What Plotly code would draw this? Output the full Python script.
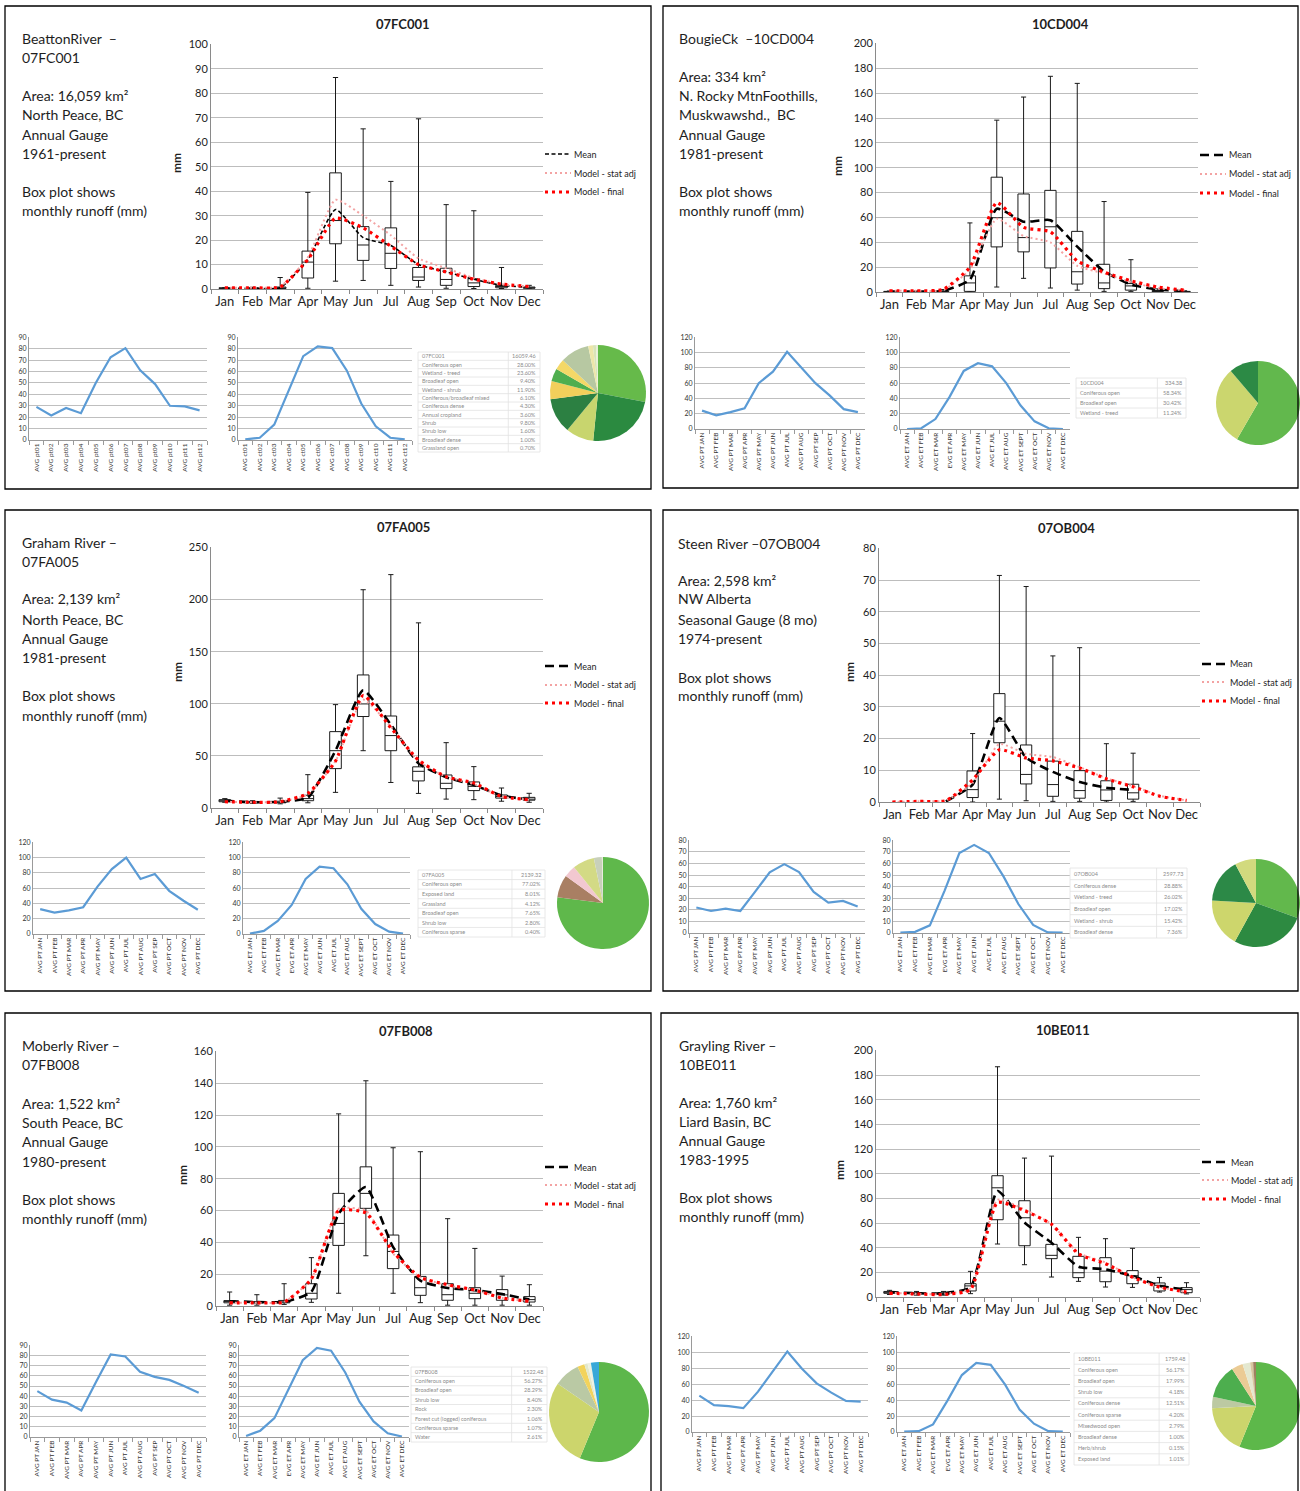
import plotly.graph_objects as go

W, H = 1300, 1491
FONT = "Lato, 'Open Sans', sans-serif"
TXT = "#1e1e1e"

MONTHS = ["Jan", "Feb", "Mar", "Apr", "May", "Jun", "Jul", "Aug", "Sep", "Oct", "Nov", "Dec"]

PT_LABELS_NUM = ["AVG pt01", "AVG pt02", "AVG pt03", "AVG pt04", "AVG pt05", "AVG pt06",
                 "AVG pt07", "AVG pt08", "AVG pt09", "AVG pt10", "AVG pt11", "AVG pt12"]
ET_LABELS_NUM = ["AVG ct01", "AVG ct02", "AVG ct03", "AVG ct04", "AVG ct05", "AVG ct06",
                 "AVG ct07", "AVG ct08", "AVG ct09", "AVG ct10", "AVG ct11", "AVG ct12"]
PT_LABELS = ["AVG PT JAN", "AVG PT FEB", "AVG PT MAR", "AVG PT APR", "AVG PT MAY", "AVG PT JUN",
             "AVG PT JUL", "AVG PT AUG", "AVG PT SEP", "AVG PT OCT", "AVG PT NOV", "AVG PT DEC"]
ET_LABELS = ["AVG ET JAN", "AVG ET FEB", "AVG ET MAR", "EVG ET APR", "AVG ET MAY", "AVG ET JUN",
             "AVG ET JUL", "AVG ET AUG", "AVG ET SEPT", "AVG ET OCT", "AVG ET NOV", "AVG ET DEC"]

# ---------------- 07FC001 Beatton River ----------------
FC001_MIN = [0.0, 0.0, 0.1, 0.3, 3.2, 3.5, 1.5, 0.8, 0.3, 0.2, 0.2, 0.1]
FC001_Q1 = [0.2, 0.2, 0.2, 4.5, 18.5, 11.7, 8.4, 3.5, 1.5, 1.0, 0.5, 0.3]
FC001_MED = [0.3, 0.3, 0.4, 11.0, 28.0, 18.0, 14.6, 4.9, 3.9, 2.5, 1.0, 0.5]
FC001_Q3 = [0.5, 0.5, 0.8, 15.5, 47.5, 25.5, 25.0, 8.8, 8.5, 4.2, 1.5, 0.8]
FC001_MAX = [0.6, 0.7, 4.7, 39.5, 86.5, 65.5, 44.0, 69.6, 34.5, 32.0, 8.8, 1.5]
FC001_MEAN = [0.3, 0.3, 0.5, 12.0, 32.5, 21.0, 17.8, 10.0, 7.0, 4.0, 1.5, 0.7]
FC001_STAT = [0.5, 0.5, 1.0, 13.0, 36.5, 30.0, 22.0, 12.5, 8.5, 4.5, 2.0, 1.0]
FC001_FINAL = [0.5, 0.5, 0.8, 12.0, 29.0, 25.0, 17.5, 10.0, 7.0, 4.0, 2.0, 1.0]
FC001_PT = [29, 21.5, 28, 23.5, 50, 72.5, 80.5, 61, 49, 30, 29.5, 26]
FC001_ET = [0.5, 2, 13.5, 44, 73.5, 82, 80.5, 61, 32, 12, 2, 0.5]
FC001_AREA = "16059.46"
FC001_COVER = ["Coniferous open", "Wetland - treed", "Broadleaf open", "Wetland - shrub",
               "Coniferous/broadleaf mixed", "Coniferous dense", "Annual cropland", "Shrub",
               "Shrub low", "Broadleaf dense", "Grassland open"]
FC001_PCT = [28.0, 23.6, 9.4, 11.9, 6.1, 4.3, 3.6, 9.8, 1.6, 1.0, 0.7]
FC001_COLORS = ["#66BA4A", "#2B8A40", "#C8D56E", "#2C8042", "#F2CF5B", "#4FAE4F",
                "#F4D867", "#B7C8A2", "#EDE6A9", "#D9E4B8", "#E8EFD8"]

# ---------------- 10CD004 Bougie Creek ----------------
CD004_MIN = [0.0, 0.0, 0.2, 0.0, 4.0, 11.0, 3.2, 1.5, 0.5, 0.5, 0.2, 0.1]
CD004_Q1 = [0.2, 0.2, 0.3, 0.5, 36.3, 32.3, 19.4, 6.4, 2.7, 1.5, 0.4, 0.2]
CD004_MED = [0.3, 0.3, 0.5, 7.3, 59.8, 43.8, 52.5, 16.3, 7.3, 4.9, 0.7, 0.3]
CD004_Q3 = [0.5, 0.5, 0.8, 13.0, 92.4, 78.9, 81.8, 48.8, 22.3, 6.8, 1.2, 0.5]
CD004_MAX = [0.8, 0.8, 2.0, 55.6, 138.3, 156.9, 173.6, 167.9, 72.8, 26.0, 2.5, 1.0]
CD004_MEAN = [0.3, 0.3, 0.8, 10.0, 67.0, 56.5, 57.8, 36.5, 16.5, 6.0, 2.0, 0.8]
CD004_STAT = [1.0, 1.0, 1.5, 18.0, 59.0, 45.0, 40.0, 21.0, 15.0, 8.0, 3.0, 1.5]
CD004_FINAL = [1.0, 1.0, 2.0, 20.0, 72.0, 52.0, 48.5, 25.0, 16.0, 9.0, 4.0, 1.5]
CD004_PT = [24, 18, 22, 27, 60, 75, 101, 80, 60, 44, 26, 22]
CD004_ET = [0, 1, 13, 42, 76, 86, 82, 60, 31, 10, 1, 0]
CD004_AREA = "334.38"
CD004_COVER = ["Coniferous open", "Broadleaf open", "Wetland - treed"]
CD004_PCT = [58.34, 30.42, 11.24]
CD004_COLORS = ["#62B84D", "#CBD66E", "#2C8A45"]

# ---------------- 07FA005 Graham River ----------------
FA005_MIN = [5.5, 4.5, 4.0, 5.0, 15.0, 55.0, 24.5, 14.0, 8.5, 8.0, 6.5, 5.5]
FA005_Q1 = [6.0, 5.0, 5.0, 7.0, 37.8, 87.8, 55.0, 26.0, 18.6, 16.7, 9.5, 7.5]
FA005_MED = [7.0, 5.5, 5.5, 9.0, 55.0, 99.9, 69.5, 35.2, 23.7, 20.8, 11.0, 8.5]
FA005_Q3 = [8.0, 6.3, 6.5, 12.2, 73.3, 127.7, 88.3, 39.5, 31.7, 25.0, 12.5, 10.2]
FA005_MAX = [9.0, 7.0, 9.5, 32.0, 99.2, 209.5, 224.0, 177.7, 62.7, 39.7, 19.2, 14.1]
FA005_MEAN = [7.0, 5.5, 6.0, 10.0, 55.0, 113.0, 80.0, 43.0, 29.5, 22.0, 12.0, 8.0]
FA005_STAT = [6.0, 5.5, 6.0, 13.0, 45.0, 104.0, 78.0, 45.0, 30.0, 23.0, 11.0, 8.0]
FA005_FINAL = [6.0, 5.5, 6.0, 14.0, 45.0, 108.0, 77.0, 46.0, 30.0, 24.0, 11.0, 8.0]
FA005_PT = [32.5, 28, 31, 35, 62, 85, 100, 72, 78.5, 56.5, 43.5, 31.7]
FA005_ET = [0.5, 4, 17, 38, 72, 88, 86, 65, 33, 13, 3, 0.5]
FA005_AREA = "2139.32"
FA005_COVER = ["Coniferous open", "Exposed land", "Grassland", "Broadleaf open",
               "Shrub low", "Coniferous sparse"]
FA005_PCT = [77.02, 8.01, 4.12, 7.65, 2.80, 0.40]
FA005_COLORS = ["#5FB84B", "#A97F63", "#F2C8D0", "#D3DA85", "#C8D0BA", "#E6E9DA"]

# ---------------- 07OB004 Steen River (seasonal gauge) ----------------
OB004_MIN = [None, None, None, 0.0, 0.9, 0.4, 0.2, 0.2, 0.0, 0.2, None, None]
OB004_Q1 = [None, None, None, 1.4, 18.7, 5.7, 1.8, 1.2, 0.5, 0.9, None, None]
OB004_MED = [None, None, None, 3.9, 25.5, 8.7, 5.5, 3.6, 3.8, 2.9, None, None]
OB004_Q3 = [None, None, None, 9.8, 34.2, 18.0, 12.9, 9.9, 6.7, 5.6, None, None]
OB004_MAX = [None, None, None, 21.6, 71.5, 68.0, 46.1, 48.7, 18.4, 15.4, None, None]
OB004_MEAN = [None, None, 0.2, 5.5, 26.5, 14.0, 9.5, 6.3, 4.5, 3.8, None, None]
OB004_STAT = [0.0, 0.2, 0.5, 6.0, 18.3, 15.2, 14.2, 11.0, 7.5, 5.0, 2.0, 0.5]
OB004_FINAL = [0.0, 0.2, 0.4, 7.0, 16.5, 13.9, 13.0, 10.7, 7.3, 4.8, 1.8, 0.5]
OB004_PT = [22, 19, 21, 19, 35.5, 52.3, 59.4, 52.6, 35.4, 26.3, 27.7, 22.9]
OB004_ET = [0.3, 1.0, 6.6, 36.6, 69, 76, 69, 48.6, 25, 6.9, 0.5, 0.3]
OB004_AREA = "2597.73"
OB004_COVER = ["Coniferous dense", "Wetland - treed", "Broadleaf open", "Wetland - shrub",
               "Broadleaf dense"]
OB004_PCT = [28.88, 26.02, 17.02, 15.42, 7.36]
OB004_COLORS = ["#62B84C", "#2D8A41", "#CDD66C", "#2C8947", "#D2DA7E"]

# ---------------- 07FB008 Moberly River ----------------
FB008_MIN = [0.5, 0.5, 1.0, 2.3, 8.0, 31.6, 8.0, 2.1, 0.5, 0.5, 0.5, 0.5]
FB008_Q1 = [2.0, 1.8, 2.0, 4.4, 38.1, 61.4, 23.5, 6.7, 3.6, 4.6, 3.6, 2.5]
FB008_MED = [3.0, 2.3, 2.5, 8.0, 51.9, 70.8, 34.3, 11.5, 7.1, 8.0, 7.0, 4.0]
FB008_Q3 = [3.4, 2.8, 3.5, 14.0, 70.8, 87.5, 44.6, 18.6, 14.0, 11.5, 10.3, 5.9]
FB008_MAX = [8.8, 7.1, 14.0, 30.4, 120.8, 141.6, 99.5, 97.0, 54.9, 36.2, 18.8, 13.4]
FB008_MEAN = [3.0, 2.5, 2.5, 9.0, 58.0, 74.8, 37.0, 15.9, 11.3, 10.0, 7.5, 4.0]
FB008_STAT = [2.0, 2.0, 2.5, 17.0, 61.0, 60.0, 33.0, 18.0, 13.0, 10.0, 5.0, 3.0]
FB008_FINAL = [2.0, 2.0, 2.5, 17.0, 60.0, 58.5, 34.0, 18.0, 13.4, 10.0, 5.0, 3.0]
FB008_PT = [45, 36.7, 33.8, 26, 54, 81, 79, 64, 59, 56, 50, 43.5]
FB008_ET = [1, 6.2, 18.5, 46.8, 75.3, 87.3, 84.7, 63.3, 34.7, 15.3, 3.6, 0.5]
FB008_AREA = "1522.48"
FB008_COVER = ["Coniferous open", "Broadleaf open", "Shrub low", "Rock",
               "Forest cut (logged) coniferous", "Coniferous sparse", "Water"]
FB008_PCT = [56.27, 28.29, 8.40, 2.30, 1.06, 1.07, 2.61]
FB008_COLORS = ["#5DB74B", "#CCD56C", "#BAC9A4", "#F2D35C", "#E2E8CC", "#EEF1E2", "#38A8D8"]

# ---------------- 10BE011 Grayling River ----------------
BE011_MIN = [2.0, 1.5, 1.5, 2.7, 43.0, 26.2, 16.2, 12.7, 8.1, 7.8, 4.0, 2.5]
BE011_Q1 = [3.0, 2.5, 2.0, 4.9, 62.7, 41.6, 31.1, 15.7, 12.4, 10.8, 4.9, 3.5]
BE011_MED = [3.8, 3.0, 3.0, 9.0, 88.6, 64.3, 33.8, 19.7, 21.0, 17.3, 9.5, 6.0]
BE011_Q3 = [4.5, 3.5, 3.5, 10.8, 98.4, 78.1, 42.7, 33.0, 31.9, 21.4, 11.4, 7.6]
BE011_MAX = [5.4, 4.5, 4.5, 20.8, 186.8, 112.7, 114.3, 48.4, 47.3, 39.5, 15.9, 11.6]
BE011_MEAN = [4.0, 3.0, 3.0, 8.0, 86.0, 60.5, 44.0, 24.6, 22.5, 17.0, 9.0, 6.0]
BE011_STAT = [3.5, 2.5, 2.5, 7.0, 79.0, 71.0, 59.0, 35.7, 28.0, 16.0, 8.0, 4.0]
BE011_FINAL = [3.0, 2.5, 2.0, 6.0, 76.8, 70.0, 59.0, 35.0, 27.0, 16.0, 8.0, 4.0]
BE011_PT = [45.6, 33.6, 32.4, 29.9, 50.6, 75.5, 101, 79.3, 61, 49.4, 39, 38.2]
BE011_ET = [0.5, 1, 9.5, 39.4, 71.4, 86.7, 84.2, 59.3, 28.2, 10.4, 1, 0.5]
BE011_AREA = "1759.48"
BE011_COVER = ["Coniferous open", "Broadleaf open", "Shrub low", "Coniferous dense",
               "Coniferous sparse", "Mixedwood open", "Broadleaf dense", "Herb/shrub",
               "Exposed land"]
BE011_PCT = [56.17, 17.99, 4.18, 12.51, 4.20, 2.79, 1.00, 0.15, 1.01]
BE011_COLORS = ["#5DB84A", "#CCD56C", "#BCC9A2", "#4DAE4E", "#EBCB95", "#E4E8D0",
                "#D8C8A0", "#9C7A55", "#A08060"]

# ---------------- panel text ----------------
FC001_TEXT = ["BeattonRiver  \u2013", "07FC001", "Area: 16,059 km\u00b2", "North Peace, BC",
              "Annual Gauge", "1961-present", "Box plot shows", "monthly runoff (mm)"]
CD004_TEXT = ["BougieCk  \u201310CD004", "Area: 334 km\u00b2", "N. Rocky MtnFoothills,",
              "Muskwawshd.,  BC", "Annual Gauge", "1981-present", "Box plot shows",
              "monthly runoff (mm)"]
FA005_TEXT = ["Graham River \u2013", "07FA005", "Area: 2,139 km\u00b2", "North Peace, BC",
              "Annual Gauge", "1981-present", "Box plot shows", "monthly runoff (mm)"]
OB004_TEXT = ["Steen River \u201307OB004", "Area: 2,598 km\u00b2", "NW Alberta",
              "Seasonal Gauge (8 mo)", "1974-present", "Box plot shows", "monthly runoff (mm)"]
FB008_TEXT = ["Moberly River \u2013", "07FB008", "Area: 1,522 km\u00b2", "South Peace, BC",
              "Annual Gauge", "1980-present", "Box plot shows", "monthly runoff (mm)"]
BE011_TEXT = ["Grayling River \u2013", "10BE011", "Area: 1,760 km\u00b2", "Liard Basin, BC",
              "Annual Gauge", "1983-1995", "Box plot shows", "monthly runoff (mm)"]

LEGEND_NAMES = ["Mean", "Model - stat adj", "Model - final"]

# ---------------------------------------------------------------------------
fig = go.Figure()
layout = {}
annotations = []
shapes = []
counter = [0]

STAT_STYLE = dict(color="#F3A3A3", width=2, dash="2px,3px")
FINAL_STYLE = dict(color="#FF0000", width=3.2, dash="3px,4px")
MEAN_THIN = dict(color="#000000", width=1.6, dash="4px,2.5px")
MEAN_THICK = dict(color="#000000", width=2.6, dash="9px,5px")


def px(x):
    return x / W


def py(y):
    return 1 - y / H


def new_axes(x0, x1, y0, y1):
    counter[0] += 1
    n = counter[0]
    xk, yk = ("xaxis", "yaxis") if n == 1 else (f"xaxis{n}", f"yaxis{n}")
    xr, yr = ("x", "y") if n == 1 else (f"x{n}", f"y{n}")
    layout[xk] = dict(domain=[px(x0), px(x1)], anchor=yr, automargin=False, fixedrange=True)
    layout[yk] = dict(domain=[py(y1), py(y0)], anchor=xr, automargin=False, fixedrange=True)
    return xk, yk, xr, yr


def text(x, y, s, size=14, anchor="left", bold=False, angle=0, color=TXT):
    annotations.append(dict(
        x=px(x), y=py(y), xref="paper", yref="paper", showarrow=False,
        text=s, textangle=angle, xanchor=anchor, yanchor="middle",
        font=dict(size=size, color=color, family=FONT, weight="bold" if bold else "normal")))


def hline(x0, x1, y, color, width, dash="solid"):
    shapes.append(dict(type="line", xref="paper", yref="paper", x0=px(x0), x1=px(x1),
                       y0=py(y), y1=py(y), line=dict(color=color, width=width, dash=dash)))


def vline(x, y0, y1, color, width):
    shapes.append(dict(type="line", xref="paper", yref="paper", x0=px(x), x1=px(x),
                       y0=py(y0), y1=py(y1), line=dict(color=color, width=width)))


def box_chart(geom, mn, q1, med, q3, mx, mean, stat, final, ymax, dtick, mean_style):
    xk, yk, xr, yr = new_axes(*geom)
    keep = [i for i, v in enumerate(med) if v is not None]
    fig.add_trace(go.Box(
        x=[MONTHS[i] for i in keep], q1=[q1[i] for i in keep], median=[med[i] for i in keep],
        q3=[q3[i] for i in keep], lowerfence=[mn[i] for i in keep],
        upperfence=[mx[i] for i in keep], orientation="v", boxpoints=False,
        fillcolor="white", line=dict(color="#1a1a1a", width=1), whiskerwidth=0.45,
        width=0.42, xaxis=xr, yaxis=yr, hoverinfo="skip"))
    for vals, style in ((mean, mean_style), (stat, STAT_STYLE), (final, FINAL_STYLE)):
        fig.add_trace(go.Scatter(
            x=MONTHS, y=vals, mode="lines", line=dict(shape="spline", smoothing=0.5, **style),
            xaxis=xr, yaxis=yr, hoverinfo="skip"))
    layout[xk].update(
        type="category", categoryorder="array", categoryarray=MONTHS, range=[-0.5, 11.5],
        showline=True, linecolor="#8a8a8a", linewidth=1, ticks="outside", tickson="boundaries",
        ticklen=4, tickcolor="#8a8a8a", tickangle=0, tickmode="linear", dtick=1,
        tickfont=dict(size=13, color=TXT, family=FONT), showgrid=False, zeroline=False)
    layout[yk].update(
        range=[0, ymax * 1.002], dtick=dtick, tick0=0, showline=True, linecolor="#8a8a8a",
        linewidth=1, showgrid=True, gridcolor="#BDBDBD", gridwidth=1, zeroline=False, ticks="",
        tickfont=dict(size=11, color=TXT, family=FONT))


def line_chart(geom, labels, vals, ymax, dtick):
    xk, yk, xr, yr = new_axes(*geom)
    fig.add_trace(go.Scatter(
        x=labels, y=vals, mode="lines", line=dict(color="#5B9BD5", width=2.2),
        xaxis=xr, yaxis=yr, hoverinfo="skip"))
    layout[xk].update(
        type="category", range=[-0.5, 11.5], showline=True, linecolor="#9a9a9a",
        ticks="outside", tickson="boundaries", ticklen=4, tickcolor="#9a9a9a",
        tickangle=-90, tickmode="linear", dtick=1, showgrid=False, zeroline=False,
        tickfont=dict(size=6.5, color="#333333", family=FONT))
    layout[yk].update(
        range=[0, ymax * 1.003], dtick=dtick, tick0=0, showline=True, linecolor="#9a9a9a",
        showgrid=True, gridcolor="#BFBFBF", gridwidth=1.2, zeroline=False, ticks="",
        tickfont=dict(size=7, color="#333333", family=FONT))


def cover_table(geom, station, area, labels, pct):
    x0, x1, y0, y1 = geom
    rows = [(station, area)] + [(name, f"{v:.2f}%") for name, v in zip(labels, pct)]
    rh = (y1 - y0) / len(rows)
    xs = x0 + (x1 - x0) * 0.74
    for i in range(len(rows) + 1):
        hline(x0, x1, y0 + rh * i, "#E2E2E2", 0.8)
    for x in (x0, xs, x1):
        vline(x, y0, y1, "#E2E2E2", 0.8)
    for i, (a, b) in enumerate(rows):
        yc = y0 + rh * (i + 0.5)
        text(x0 + 2, yc, a, size=5.5, color="#8c8c8c")
        text(x1 - 2, yc, b, size=5.5, anchor="right", color="#8c8c8c")


def cover_pie(cx, cy, r, labels, pct, colors):
    fig.add_trace(go.Pie(
        labels=labels, values=pct, sort=False, direction="clockwise", rotation=0,
        textinfo="none", hoverinfo="skip", marker=dict(colors=colors, line=dict(width=0)),
        domain=dict(x=[px(cx - r), px(cx + r)], y=[py(cy + r), py(cy - r)])))


def legend(x0, xt, rows, mean_style):
    for name, style, y in zip(LEGEND_NAMES, (mean_style, STAT_STYLE, FINAL_STYLE), rows):
        hline(x0, xt - 1, y, style["color"], style["width"], style["dash"])
        text(xt, y, name, size=9)


PANELS = [
    dict(border=(5, 6, 651, 489), tx=20, ty=[38, 57, 95, 115, 134, 153, 192, 211], lines=FC001_TEXT,
         box=(211, 543, 44, 289), title=(403, 24), mm=(177, 163), leg=(545, 572, [154, 173, 192]),
         lc1=(29, 207, 337, 440), lc2=(238, 412, 337, 440), tab=(418, 540, 352, 452),
         pie=(598, 393, 48), st="07FC001",
         d=(FC001_MIN, FC001_Q1, FC001_MED, FC001_Q3, FC001_MAX, FC001_MEAN, FC001_STAT,
            FC001_FINAL), ymax=100, dt=10, mean=MEAN_THIN, ptl=PT_LABELS_NUM, etl=ET_LABELS_NUM,
         pt=FC001_PT, et=FC001_ET, sm=90, sd=10, area=FC001_AREA, cov=FC001_COVER,
         pct=FC001_PCT, col=FC001_COLORS),
    dict(border=(663, 6, 1298, 488), tx=677, ty=[38, 76, 96, 115, 134, 153, 191, 211],
         lines=CD004_TEXT, box=(876, 1198, 43, 292), title=(1060, 24), mm=(838, 166),
         leg=(1200, 1227, [155, 174, 193]), lc1=(695, 865, 337, 429), lc2=(900, 1070, 337, 429),
         tab=(1076, 1186, 378, 418), pie=(1258, 403, 42), st="10CD004",
         d=(CD004_MIN, CD004_Q1, CD004_MED, CD004_Q3, CD004_MAX, CD004_MEAN, CD004_STAT,
            CD004_FINAL), ymax=200, dt=20, mean=MEAN_THICK, ptl=PT_LABELS, etl=ET_LABELS,
         pt=CD004_PT, et=CD004_ET, sm=120, sd=20, area=CD004_AREA, cov=CD004_COVER,
         pct=CD004_PCT, col=CD004_COLORS),
    dict(border=(5, 510, 651, 991), tx=20, ty=[542, 561, 599, 619, 638, 657, 696, 715],
         lines=FA005_TEXT, box=(211, 543, 547, 808), title=(403, 527), mm=(177, 672),
         leg=(545, 572, [666, 685, 703]), lc1=(33, 205, 842, 934), lc2=(243, 410, 842, 934),
         tab=(418, 545, 870, 937), pie=(603, 903, 46), st="07FA005",
         d=(FA005_MIN, FA005_Q1, FA005_MED, FA005_Q3, FA005_MAX, FA005_MEAN, FA005_STAT,
            FA005_FINAL), ymax=250, dt=50, mean=MEAN_THICK, ptl=PT_LABELS, etl=ET_LABELS,
         pt=FA005_PT, et=FA005_ET, sm=120, sd=20, area=FA005_AREA, cov=FA005_COVER,
         pct=FA005_PCT, col=FA005_COLORS),
    dict(border=(663, 510, 1298, 991), tx=676, ty=[543, 580, 599, 619, 638, 677, 696],
         lines=OB004_TEXT, box=(879, 1200, 548, 802), title=(1066, 528), mm=(849, 672),
         leg=(1202, 1228, [664, 682, 701]), lc1=(689, 865, 840, 933), lc2=(893, 1070, 840, 933),
         tab=(1070, 1187, 868, 938), pie=(1256, 903, 44), st="07OB004",
         d=(OB004_MIN, OB004_Q1, OB004_MED, OB004_Q3, OB004_MAX, OB004_MEAN, OB004_STAT,
            OB004_FINAL), ymax=80, dt=10, mean=MEAN_THICK, ptl=PT_LABELS, etl=ET_LABELS,
         pt=OB004_PT, et=OB004_ET, sm=80, sd=10, area=OB004_AREA, cov=OB004_COVER,
         pct=OB004_PCT, col=OB004_COLORS),
    dict(border=(5, 1013, 651, 1500), tx=20, ty=[1045, 1064, 1103, 1122, 1141, 1161, 1199, 1218],
         lines=FB008_TEXT, box=(216, 543, 1051, 1306), title=(406, 1031), mm=(182, 1175),
         leg=(545, 572, [1167, 1185, 1204]), lc1=(30, 206, 1345, 1437),
         lc2=(239, 409, 1345, 1437), tab=(411, 547, 1367, 1442), pie=(599, 1412, 50),
         st="07FB008",
         d=(FB008_MIN, FB008_Q1, FB008_MED, FB008_Q3, FB008_MAX, FB008_MEAN, FB008_STAT,
            FB008_FINAL), ymax=160, dt=20, mean=MEAN_THICK, ptl=PT_LABELS, etl=ET_LABELS,
         pt=FB008_PT, et=FB008_ET, sm=90, sd=10, area=FB008_AREA, cov=FB008_COVER,
         pct=FB008_PCT, col=FB008_COLORS),
    dict(border=(661, 1013, 1298, 1500), tx=677,
         ty=[1045, 1064, 1102, 1121, 1140, 1159, 1197, 1216], lines=BE011_TEXT,
         box=(876, 1200, 1050, 1297), title=(1063, 1030), mm=(839, 1170),
         leg=(1202, 1229, [1162, 1180, 1199]), lc1=(692, 868, 1336, 1432),
         lc2=(897, 1070, 1336, 1432), tab=(1074, 1189, 1353, 1465), pie=(1256, 1406, 44),
         st="10BE011",
         d=(BE011_MIN, BE011_Q1, BE011_MED, BE011_Q3, BE011_MAX, BE011_MEAN, BE011_STAT,
            BE011_FINAL), ymax=200, dt=20, mean=MEAN_THICK, ptl=PT_LABELS, etl=ET_LABELS,
         pt=BE011_PT, et=BE011_ET, sm=120, sd=20, area=BE011_AREA, cov=BE011_COVER,
         pct=BE011_PCT, col=BE011_COLORS),
]

for p in PANELS:
    bx0, by0, bx1, by1 = p["border"]
    shapes.append(dict(type="rect", xref="paper", yref="paper", x0=px(bx0), x1=px(bx1),
                       y0=py(by1), y1=py(by0), line=dict(color="#000000", width=1.3)))
    for y, s in zip(p["ty"], p["lines"]):
        text(p["tx"], y, s, size=14)
    box_chart(p["box"], *p["d"], p["ymax"], p["dt"], p["mean"])
    text(p["title"][0], p["title"][1], p["st"], size=13, anchor="center", bold=True)
    text(p["mm"][0], p["mm"][1], "mm", size=12, anchor="center", bold=True, angle=-90)
    legend(*p["leg"], p["mean"])
    line_chart(p["lc1"], p["ptl"], p["pt"], p["sm"], p["sd"])
    line_chart(p["lc2"], p["etl"], p["et"], p["sm"], p["sd"])
    cover_table(p["tab"], p["st"], p["area"], p["cov"], p["pct"])
    cover_pie(*p["pie"], p["cov"], p["pct"], p["col"])

layout.update(
    template="none", width=W, height=H, margin=dict(l=0, r=0, t=0, b=0, pad=0),
    showlegend=False, paper_bgcolor="white", plot_bgcolor="white",
    font=dict(family=FONT, color=TXT), annotations=annotations, shapes=shapes)
fig.update_layout(**layout)
fig.write_html("out.html")
